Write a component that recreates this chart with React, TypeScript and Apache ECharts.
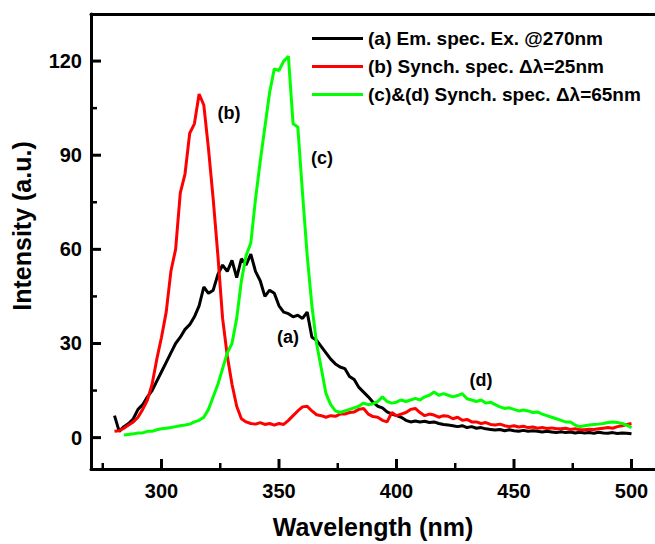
import React, { useEffect, useRef } from "react";
import * as echarts from "echarts";

const FONT = "'Liberation Sans', Arial, sans-serif";

const seriesNames = [
  "(a) Em. spec. Ex. @270nm",
  "(b) Synch. spec. \u0394\u03bb=25nm",
  "(c)&(d) Synch. spec. \u0394\u03bb=65nm",
];
const seriesColors = ["#000000", "#ff0000", "#00ff00"];

const X_MIN = 270;
const X_MAX = 510;
const Y_MIN = -10;
const Y_MAX = 135;
const xMajorTicks = [300, 350, 400, 450, 500];
const xMinorTicks = [275, 325, 375, 425, 475];
const yMajorTicks = [0, 30, 60, 90, 120];
const yMinorTicks = [15, 45, 75, 105];

// (a) emission spectrum, [wavelength nm, intensity]
const emission = [
  [280, 7], [282, 2], [284, 3.5], [286, 4.5], [288, 6], [290, 9], [292, 10.5], [294, 13], [296, 15], [298, 18],
  [300, 21], [302, 24], [304, 27], [306, 30], [308, 32], [310, 34.5], [312, 36], [314, 38.5], [316, 42], [318, 48],
  [320, 46], [322, 47], [324, 52], [326, 55], [328, 53], [330, 56.5], [332, 51], [334, 57], [336, 55], [338, 58.5],
  [340, 53], [342, 50], [344, 45], [346, 47], [348, 46], [350, 42], [352, 40], [354, 39.5], [356, 38.5], [358, 39],
  [360, 38], [362, 40], [364, 32], [366, 31], [368, 29], [370, 27], [372, 25], [374, 23.5], [376, 22.5], [378, 22],
  [380, 19.5], [382, 18.5], [384, 16], [386, 14.5], [388, 13], [390, 11.3], [392, 10], [394, 9.5], [396, 8.2], [398, 7.5],
  [400, 7], [402, 6.5], [404, 5.5], [406, 5], [408, 5.3], [410, 5], [412, 5.2], [414, 4.8], [416, 5], [418, 4.5],
  [420, 4.2], [422, 4], [424, 3.8], [426, 3.5], [428, 3.8], [430, 3.2], [432, 3.5], [434, 3], [436, 3.2], [438, 2.8],
  [440, 2.6], [442, 2.4], [444, 2.6], [446, 2.2], [448, 2.5], [450, 2.2], [452, 2], [454, 2.3], [456, 2], [458, 2.2],
  [460, 2], [462, 1.8], [464, 2], [466, 1.8], [468, 1.6], [470, 1.9], [472, 1.6], [474, 1.8], [476, 1.5], [478, 1.7],
  [480, 1.5], [482, 1.6], [484, 1.4], [486, 1.7], [488, 1.5], [490, 1.4], [492, 1.6], [494, 1.3], [496, 1.5], [498, 1.4],
  [500, 1.2],
];

// (b) synchronous spectrum, delta lambda = 25 nm
const synch25 = [
  [280, 2], [282, 2.2], [284, 3], [286, 4], [288, 5], [290, 6.5], [292, 9], [294, 12], [296, 17], [298, 25],
  [300, 32], [302, 40], [304, 53], [306, 60], [308, 78], [310, 84], [312, 97], [314, 100], [316, 109.5], [318, 106],
  [320, 92], [322, 76], [324, 58], [326, 38], [328, 26], [330, 17], [332, 10], [334, 6], [336, 5], [338, 4.5],
  [340, 4.3], [342, 4.8], [344, 4.2], [346, 4.5], [348, 4], [350, 4.5], [352, 4.2], [354, 5.5], [356, 7], [358, 8.5],
  [360, 9.8], [362, 10], [364, 8.5], [366, 7.3], [368, 7], [370, 6.5], [372, 7], [374, 6.8], [376, 7.5], [378, 7.5],
  [380, 8], [382, 8.2], [384, 9], [386, 9.3], [388, 7.5], [390, 6.7], [392, 6.5], [394, 5.5], [396, 5], [398, 8],
  [400, 7], [402, 7.5], [404, 8], [406, 9], [408, 9.3], [410, 8], [412, 7], [414, 7.5], [416, 7.2], [418, 6.5],
  [420, 7], [422, 6.8], [424, 6], [426, 6.5], [428, 5.5], [430, 5.8], [432, 5], [434, 5], [436, 4.5], [438, 4.8],
  [440, 4.2], [442, 4], [444, 4.3], [446, 3.8], [448, 3.5], [450, 3.8], [452, 3.4], [454, 3.6], [456, 3.2], [458, 3.4],
  [460, 3], [462, 3.2], [464, 2.9], [466, 3.1], [468, 2.8], [470, 2.8], [472, 3], [474, 2.6], [476, 2.8], [478, 2.5],
  [480, 2.5], [482, 2.7], [484, 2.6], [486, 2.8], [488, 3], [490, 3.2], [492, 3], [494, 3.5], [496, 3.8], [498, 4.2],
  [500, 4.5],
];

// (c)&(d) synchronous spectrum, delta lambda = 65 nm
const synch65 = [
  [284, 0.8], [286, 1], [288, 1.2], [290, 1.5], [292, 1.5], [294, 2], [296, 2], [298, 2.5],
  [300, 2.8], [302, 3], [304, 3.2], [306, 3.5], [308, 3.8], [310, 4], [312, 4.3], [314, 5], [316, 5.5], [318, 6.5],
  [320, 9], [322, 13], [324, 17], [326, 22], [328, 27], [330, 30], [332, 38], [334, 50], [336, 58], [338, 62],
  [340, 76], [342, 88], [344, 99], [346, 110], [348, 117.5], [350, 117], [352, 120], [354, 121.5], [356, 100], [358, 99],
  [360, 78], [362, 58], [364, 42], [366, 30], [368, 22], [370, 14], [372, 10.5], [374, 8.5], [376, 8], [378, 8.5],
  [380, 9], [382, 9.5], [384, 10], [386, 11], [388, 10.5], [390, 10.8], [392, 11.5], [394, 13], [396, 11.5], [398, 11],
  [400, 11.3], [402, 12], [404, 11.5], [406, 12], [408, 12.5], [410, 12], [412, 13], [414, 13.5], [416, 14.5], [418, 13.5],
  [420, 14], [422, 13.5], [424, 13], [426, 13.4], [428, 14], [430, 12.4], [432, 12], [434, 11.5], [436, 12], [438, 11],
  [440, 11.3], [442, 10.5], [444, 9.8], [446, 9.3], [448, 9.5], [450, 9], [452, 8.5], [454, 8.8], [456, 8.5], [458, 8],
  [460, 8.2], [462, 7.5], [464, 7], [466, 6.5], [468, 6], [470, 5.5], [472, 5], [474, 5], [476, 4], [478, 3.5],
  [480, 3.8], [482, 4], [484, 4.2], [486, 4.3], [488, 4.5], [490, 4.8], [492, 5], [494, 4.8], [496, 4.5], [498, 4],
  [500, 3.2],
];

const annotations = [
  { text: "(b)", x: 229, y: 113 },
  { text: "(c)", x: 322, y: 158 },
  { text: "(a)", x: 288, y: 337 },
  { text: "(d)", x: 481, y: 380 },
];

export default function App() {
  const ref = useRef<HTMLDivElement>(null);
  useEffect(() => {
    if (!ref.current) return;
    const chart = echarts.init(ref.current, null, { renderer: "svg" });
    const data = [emission, synch25, synch65];
    const labelStyle = { color: "#000", fontFamily: FONT, fontWeight: "bold" as const };

    // tick items: [value, isMajor(1/0), isXAxis(1/0)]
    const tickData = [
      ...xMajorTicks.map((v) => [v, 1, 1]),
      ...xMinorTicks.map((v) => [v, 0, 1]),
      ...yMajorTicks.map((v) => [v, 1, 0]),
      ...yMinorTicks.map((v) => [v, 0, 0]),
    ];

    chart.setOption({
      animation: false,
      backgroundColor: "#ffffff",
      grid: { left: 91, top: 14, width: 570, height: 460 },
      legend: {
        orient: "vertical",
        left: 312,
        top: 29,
        padding: 0,
        itemGap: 9,
        itemWidth: 51,
        itemHeight: 3,
        icon: "rect",
        data: seriesNames,
        textStyle: { ...labelStyle, fontSize: 19, lineHeight: 19, padding: [0, 0, 0, 0] },
      },
      xAxis: [
        {
          type: "value",
          min: X_MIN,
          max: X_MAX,
          position: "bottom",
          splitLine: { show: false },
          axisLine: { show: true, onZero: false, lineStyle: { color: "#000", width: 3 } },
          axisTick: { show: false },
          axisLabel: { ...labelStyle, fontSize: 20, margin: 12, customValues: xMajorTicks },
          name: "Wavelength (nm)",
          nameLocation: "middle",
          nameGap: 45,
          nameTextStyle: { ...labelStyle, fontSize: 25 },
        },
        {
          type: "value",
          min: X_MIN,
          max: X_MAX,
          position: "top",
          splitLine: { show: false },
          axisLine: { show: true, onZero: false, lineStyle: { color: "#000", width: 3 } },
          axisTick: { show: false },
          axisLabel: { show: false },
        },
      ],
      yAxis: {
        type: "value",
        min: Y_MIN,
        max: Y_MAX,
        splitLine: { show: false },
        axisLine: { show: true, onZero: false, lineStyle: { color: "#000", width: 3 } },
        axisTick: { show: false },
        axisLabel: { ...labelStyle, fontSize: 20, margin: 9, customValues: yMajorTicks },
      },
      series: [
        ...data.map((d, i) => ({
          name: seriesNames[i],
          type: "line",
          data: d,
          xAxisIndex: 0,
          showSymbol: false,
          symbol: "none",
          color: seriesColors[i],
          lineStyle: { color: seriesColors[i], width: 3 },
          z: 2,
        })),
        {
          name: "ticks",
          type: "custom",
          silent: true,
          clip: false,
          xAxisIndex: 0,
          z: 5,
          data: tickData,
          renderItem: (params: any, api: any) => {
            const v = api.value(0);
            const major = api.value(1) === 1;
            const isX = api.value(2) === 1;
            const len = major ? 10 : 6;
            const w = major ? 3 : 2.5;
            if (isX) {
              const p = api.coord([v, Y_MIN]);
              return {
                type: "line",
                shape: { x1: p[0], y1: p[1], x2: p[0], y2: p[1] - len },
                style: { stroke: "#000", lineWidth: w },
              };
            }
            const p = api.coord([X_MIN, v]);
            return {
              type: "line",
              shape: { x1: p[0], y1: p[1], x2: p[0] + len, y2: p[1] },
              style: { stroke: "#000", lineWidth: w },
            };
          },
        },
      ],
      graphic: [
        {
          type: "text",
          x: 22,
          y: 226,
          rotation: Math.PI / 2,
          style: {
            text: "Intensity (a.u.)",
            fill: "#000",
            font: `bold 25px ${FONT}`,
            align: "center",
            verticalAlign: "middle",
          },
        },
        ...annotations.map((a) => ({
          type: "text",
          x: a.x,
          y: a.y,
          style: {
            text: a.text,
            fill: "#000",
            font: `bold 18px ${FONT}`,
            align: "center",
            verticalAlign: "middle",
          },
        })),
      ],
    });
    return () => chart.dispose();
  }, []);
  return (
    <div
      ref={ref}
      style={{ position: "fixed", left: 0, top: 0, width: 655, height: 544, background: "#fff" }}
    />
  );
}
